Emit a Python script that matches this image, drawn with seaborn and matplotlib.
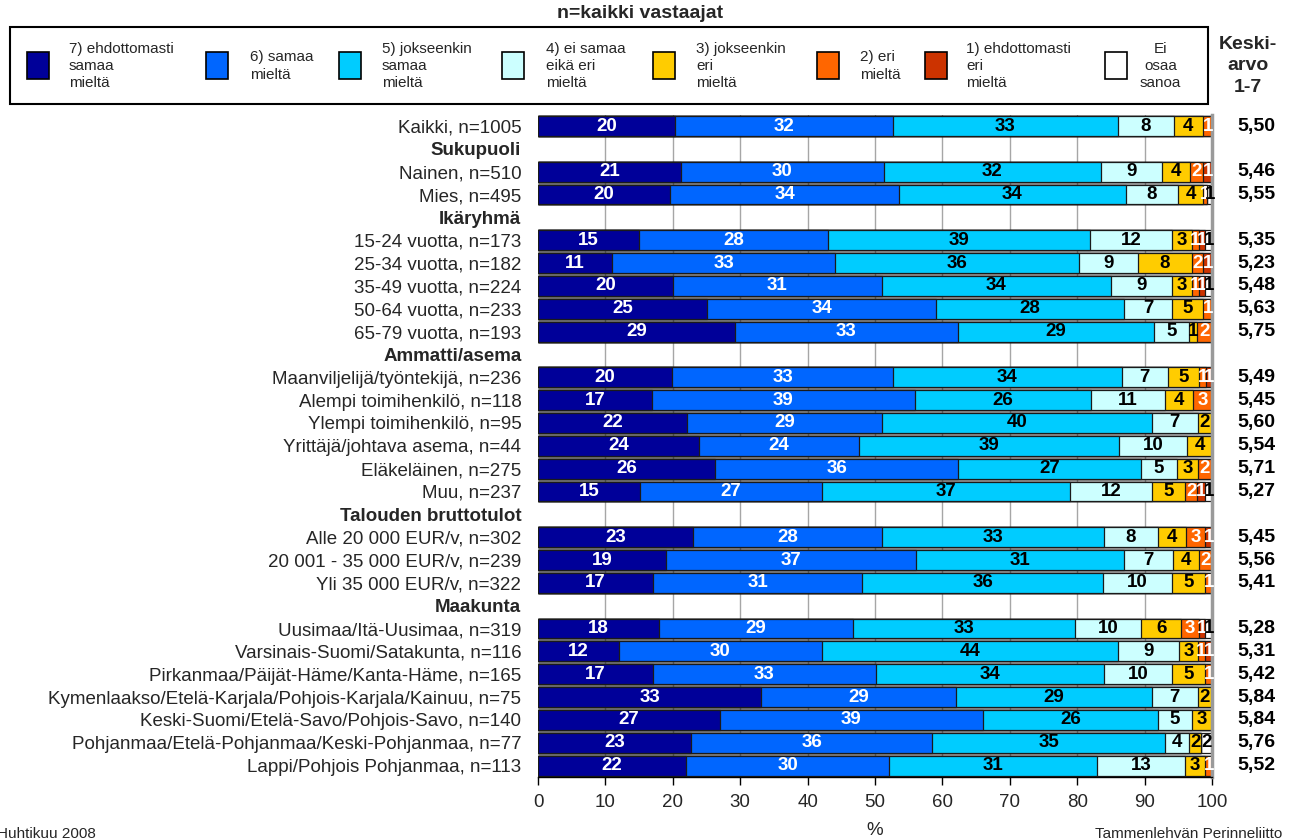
import numpy as np
import pandas as pd
import matplotlib
matplotlib.use("Agg")
import matplotlib.pyplot as plt
import matplotlib.transforms as mtransforms
from matplotlib.patches import Rectangle
import seaborn as sns

# ---------------- data ----------------
rows = [
    "Kaikki, n=1005",
    "Sukupuoli",
    "Nainen, n=510",
    "Mies, n=495",
    "Ikäryhmä",
    "15-24 vuotta, n=173",
    "25-34 vuotta, n=182",
    "35-49 vuotta, n=224",
    "50-64 vuotta, n=233",
    "65-79 vuotta, n=193",
    "Ammatti/asema",
    "Maanviljelijä/työntekijä, n=236",
    "Alempi toimihenkilö, n=118",
    "Ylempi toimihenkilö, n=95",
    "Yrittäjä/johtava asema, n=44",
    "Eläkeläinen, n=275",
    "Muu, n=237",
    "Talouden bruttotulot",
    "Alle 20 000 EUR/v, n=302",
    "20 001 - 35 000 EUR/v, n=239",
    "Yli 35 000 EUR/v, n=322",
    "Maakunta",
    "Uusimaa/Itä-Uusimaa, n=319",
    "Varsinais-Suomi/Satakunta, n=116",
    "Pirkanmaa/Päijät-Häme/Kanta-Häme, n=165",
    "Kymenlaakso/Etelä-Karjala/Pohjois-Karjala/Kainuu, n=75",
    "Keski-Suomi/Etelä-Savo/Pohjois-Savo, n=140",
    "Pohjanmaa/Etelä-Pohjanmaa/Keski-Pohjanmaa, n=77",
    "Lappi/Pohjois Pohjanmaa, n=113",
]
headers = ["Sukupuoli", "Ikäryhmä", "Ammatti/asema", "Talouden bruttotulot", "Maakunta"]
groups = [r for r in rows if r not in headers]

agree7 = [20.4, 21.2, 19.6, 15.0, 11.0, 20.0, 25.1, 29.2, 19.9, 16.9, 22.1, 23.9,
          26.3, 15.1, 23.0, 19.0, 17.1, 18.0, 12.0, 17.1, 33.1, 27.0, 22.7, 22.0]
agree6 = [32.2, 30.1, 34.0, 28.0, 33.1, 31.0, 34.0, 33.1, 32.8, 39.0, 28.9, 23.7,
          36.0, 27.0, 28.0, 37.1, 31.0, 28.7, 30.1, 33.0, 28.9, 39.0, 35.8, 30.1]
agree5 = [33.4, 32.2, 33.6, 38.9, 36.2, 34.0, 27.8, 29.1, 33.9, 26.1, 40.1, 38.6,
          27.2, 36.8, 33.0, 30.8, 35.7, 33.0, 44.0, 33.9, 29.1, 26.0, 34.5, 30.8]
neutral4 = [8.3, 9.1, 7.8, 12.2, 8.7, 9.1, 7.2, 5.2, 6.9, 11.0, 6.8, 10.1,
            5.3, 12.2, 8.0, 7.3, 10.3, 9.8, 9.0, 10.1, 6.8, 5.0, 3.6, 13.1]
disagree3 = [4.4, 4.1, 3.7, 2.9, 8.0, 2.9, 4.6, 1.2, 4.6, 4.2, 2.1, 3.7,
             3.1, 4.9, 4.1, 3.9, 4.9, 5.9, 2.8, 4.9, 2.1, 3.0, 1.8, 3.0]
disagree2 = [1.3, 2.0, 0.6, 1.1, 1.7, 1.1, 1.3, 2.2, 1.0, 2.8, 0.0, 0.0,
             2.1, 1.8, 2.9, 1.9, 1.0, 2.6, 1.1, 1.0, 0.0, 0.0, 0.0, 1.0]
disagree1 = [0.0, 1.3, 0.0, 0.9, 1.3, 0.9, 0.0, 0.0, 0.9, 0.0, 0.0, 0.0,
             0.0, 1.2, 1.0, 0.0, 0.0, 1.0, 1.0, 0.0, 0.0, 0.0, 0.0, 0.0]
no_opinion = [0.0, 0.0, 0.7, 1.0, 0.0, 1.0, 0.0, 0.0, 0.0, 0.0, 0.0, 0.0,
              0.0, 1.0, 0.0, 0.0, 0.0, 1.0, 0.0, 0.0, 0.0, 0.0, 1.6, 0.0]
means = ["5,50", "5,46", "5,55", "5,35", "5,23", "5,48", "5,63", "5,75", "5,49", "5,45",
         "5,60", "5,54", "5,71", "5,27", "5,45", "5,56", "5,41", "5,28", "5,31", "5,42",
         "5,84", "5,84", "5,76", "5,52"]

series_names = ["7) ehdottomasti\nsamaa\nmieltä", "6) samaa\nmieltä",
                "5) jokseenkin\nsamaa\nmieltä", "4) ei samaa\neikä eri\nmieltä",
                "3) jokseenkin\neri\nmieltä", "2) eri\nmieltä",
                "1) ehdottomasti\neri\nmieltä", "Ei\nosaa\nsanoa"]
colors = ["#000099", "#0066FF", "#00CCFF", "#CCFFFF", "#FFCC00", "#FF6600", "#CC3300", "#FFFFFF"]
text_colors = ["white", "white", "black", "black", "black", "white", "white", "black"]

# ---------------- style ----------------
sns.set_theme(style="white")
plt.rcParams['font.family'] = ['Liberation Sans', 'DejaVu Sans']

W_PX, H_PX = 1292, 838
fig = plt.figure(figsize=(W_PX / 100, H_PX / 100), dpi=100)
ax_left, ax_right, ax_top, ax_bot = 538, 1212, 114.6, 777
ax = fig.add_axes([ax_left / W_PX, 1 - ax_bot / H_PX,
                   (ax_right - ax_left) / W_PX, (ax_bot - ax_top) / H_PX])

series = [agree7, agree6, agree5, neutral4, disagree3, disagree2, disagree1, no_opinion]
vals = np.array(series, dtype=float).T
cum = np.cumsum(vals, axis=1)
df = pd.DataFrame({"label": groups})
for k in range(len(series)):
    df[f"c{k}"] = cum[:, k]

# gridlines
for gx in range(10, 100, 10):
    ax.axvline(gx, color="#a6a6a6", lw=1, zorder=0)

# stacked bars via cumulative overdraw
for k in reversed(range(len(series))):
    sns.barplot(data=df, x=f"c{k}", y="label", order=rows, orient="h",
                color=colors[k], saturation=1, width=0.87,
                edgecolor="#1a1a1a", linewidth=0.9, ax=ax, zorder=2)

pos = {r: i for i, r in enumerate(rows)}
for gi, g in enumerate(groups):
    y = pos[g]
    start = 0.0
    for k in range(len(series)):
        v = vals[gi, k]
        lab = int(np.floor(v + 0.5))
        if lab >= 1:
            ax.text(start + v / 2, y, str(lab), ha="center", va="center",
                    fontsize=13.5, fontweight="bold", color=text_colors[k], zorder=5)
        start += v

trans = mtransforms.blended_transform_factory(ax.transAxes, ax.transData)
for g, m in zip(groups, means):
    ax.text(1.0653, pos[g], m, transform=trans, ha="center", va="center",
            fontsize=14, fontweight="bold", color="black", clip_on=False)

ax.set_xlim(0, 100)
ax.set_ylim(len(rows) - 0.5, -0.5)
ax.set_xticks(range(0, 101, 10))
ax.set_xticklabels([str(t) for t in range(0, 101, 10)], fontsize=13.5)
ax.set_yticks(range(len(rows)))
ax.set_yticklabels(rows, fontsize=13.5)
for tl in ax.get_yticklabels():
    if tl.get_text() in headers:
        tl.set_fontweight("bold")
ax.tick_params(axis="y", left=False, length=0, pad=12)
ax.tick_params(axis="x", bottom=True, length=6, width=1, color="black",
               direction="out", pad=6)
ax.set_ylabel("")
ax.set_xlabel("%", fontsize=13.5, labelpad=8)
for s in ["top", "left"]:
    ax.spines[s].set_visible(False)
ax.spines["bottom"].set_color("black")
ax.spines["bottom"].set_linewidth(1)
ax.spines["right"].set_color("#9a9a9a")
ax.spines["right"].set_linewidth(2.5)
ax.set_facecolor("white")

# ---------------- title & legend ----------------
fig.text(640 / W_PX, 1 - 13 / H_PX, "n=kaikki vastaajat", ha="center", va="center",
         fontsize=14, fontweight="bold")

fig.add_artist(Rectangle((10 / W_PX, 1 - 104 / H_PX), (1208 - 10) / W_PX, (104 - 27) / H_PX,
                         transform=fig.transFigure, fill=False, edgecolor="black", lw=1.5))
patch_x = [27, 206, 339, 502, 653, 817, 925, 1105]
text_x = [69, 250, 382, 546, 696, 860, 966, 1140]
for k in range(len(series)):
    fig.add_artist(Rectangle((patch_x[k] / W_PX, 1 - 79 / H_PX), 22 / W_PX, 27 / H_PX,
                             transform=fig.transFigure, facecolor=colors[k],
                             edgecolor="black", lw=1.2))
    fig.text(text_x[k] / W_PX, 1 - 66 / H_PX, series_names[k], ha="left", va="center",
             fontsize=11, linespacing=1.3,
             multialignment="center" if k == 7 else "left")

fig.text(1248 / W_PX, 1 - 66 / H_PX, "Keski-\narvo\n1-7", ha="center", va="center",
         fontsize=14, fontweight="bold", linespacing=1.35)

fig.text(-3 / W_PX, 1 - 827 / H_PX, "Huhtikuu 2008", ha="left", va="top", fontsize=11)
fig.text(1095 / W_PX, 1 - 827 / H_PX, "Tammenlehvän Perinneliitto", ha="left", va="top",
         fontsize=11)

fig.savefig("out.png", dpi=100, facecolor="white")
